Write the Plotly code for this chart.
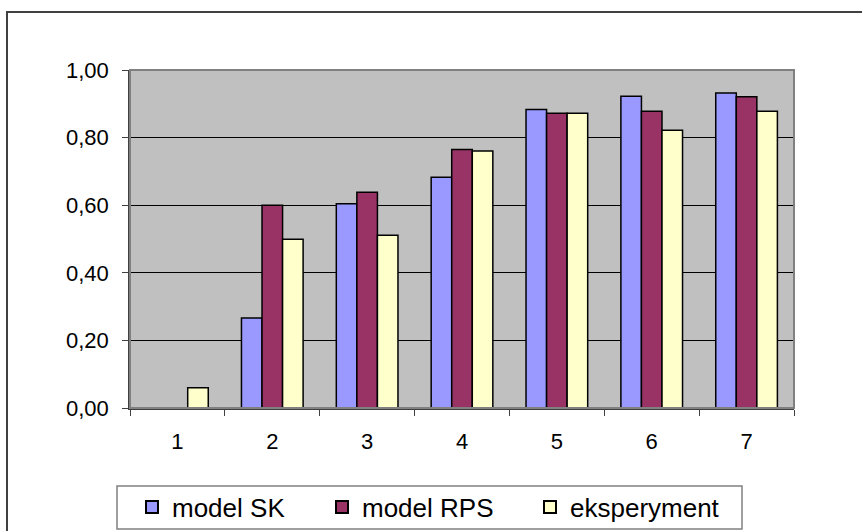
import plotly.graph_objects as go

categories = ["1", "2", "3", "4", "5", "6", "7"]
model_sk = [0.0, 0.266, 0.604, 0.683, 0.883, 0.922, 0.932]
model_rps = [0.0, 0.600, 0.638, 0.765, 0.872, 0.878, 0.921]
eksperyment = [0.060, 0.499, 0.511, 0.760, 0.872, 0.822, 0.878]
series_names = ["model SK", "model RPS", "eksperyment"]
series_colors = ["#9999FF", "#993366", "#FFFFCC"]
y_ticks = [0.0, 0.2, 0.4, 0.6, 0.8, 1.0]

W, H = 862, 531
L, R, T, B = 130, 794, 70, 408

pw = R - L
ph = B - T


def px(x):
    return (x - L) / pw


def py(y):
    return (B - y) / ph


legend_ids = ["legend", "legend2", "legend3"]
legend_left_px = [132, 322, 530]

fig = go.Figure()
for name, vals, col, lid in zip(series_names, [model_sk, model_rps, eksperyment],
                                series_colors, legend_ids):
    fig.add_trace(go.Bar(
        x=categories, y=vals, name=name, legend=lid,
        marker=dict(color=col, line=dict(color="black", width=1.5)),
    ))

legend_common = dict(
    orientation="h",
    yanchor="middle", xanchor="left",
    borderwidth=0,
    bgcolor="rgba(0,0,0,0)",
    font=dict(size=26),
    itemsizing="constant",
)

fig.update_layout(
    width=W, height=H,
    margin=dict(l=L, r=W - R, t=T, b=H - B, pad=0, autoexpand=False),
    paper_bgcolor="white",
    plot_bgcolor="#C0C0C0",
    barmode="group",
    bargap=0.35,
    bargroupgap=0,
    separators=",.",
    font=dict(family="Liberation Sans, Arial, sans-serif", size=22, color="black"),
    showlegend=True,
    xaxis=dict(
        type="category",
        showgrid=False,
        showline=True, linecolor="#404040", linewidth=1.5,
        ticks="outside", ticklen=6, tickcolor="#404040",
        tickson="boundaries",
        ticklabelstandoff=13,
        fixedrange=True,
    ),
    yaxis=dict(
        range=[0, 1],
        tickvals=y_ticks,
        tickformat=".2f",
        showgrid=True, gridcolor="black", gridwidth=1,
        showline=True, linecolor="#404040", linewidth=1.5,
        ticks="outside", ticklen=6, tickcolor="#404040",
        ticklabelstandoff=9,
        zeroline=False,
        fixedrange=True,
    ),
    shapes=[
        # plot area border (top/right grey)
        dict(type="rect", xref="paper", yref="paper", x0=0, x1=1, y0=0, y1=1,
             line=dict(color="#808080", width=2), fillcolor="rgba(0,0,0,0)", layer="above"),
        # outer chart border (clipped at right/bottom)
        dict(type="rect", xref="paper", yref="paper",
             x0=px(7), x1=px(W + 10), y0=py(H + 10), y1=py(12),
             line=dict(color="#404040", width=2), fillcolor="rgba(0,0,0,0)", layer="below"),
        # legend box
        dict(type="rect", xref="paper", yref="paper",
             x0=px(117), x1=px(742), y0=py(529), y1=py(486),
             line=dict(color="#808080", width=1.5), fillcolor="white", layer="below"),
    ],
)

for lid, lx in zip(legend_ids, legend_left_px):
    fig.update_layout({lid: dict(legend_common, x=px(lx), y=py(507))})

fig.write_html(
    "out.html",
    config={"displayModeBar": False},
    post_script="document.body.style.margin='0';document.body.style.overflow='hidden';",
)
